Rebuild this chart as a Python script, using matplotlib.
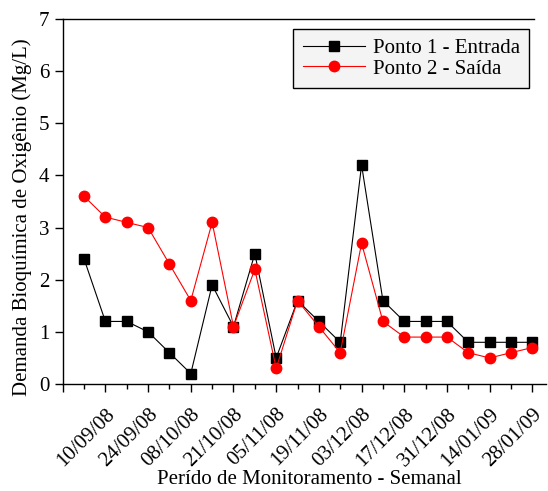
import matplotlib.pyplot as plt
from matplotlib.ticker import MultipleLocator

plt.rcParams['font.family'] = ['Liberation Serif', 'DejaVu Serif']

# weekly samples, DBO in mg/L
semana = list(range(1, 23))
ponto1 = [2.4, 1.2, 1.2, 1.0, 0.6, 0.2, 1.9, 1.1, 2.5, 0.5, 1.6,
          1.2, 0.8, 4.2, 1.6, 1.2, 1.2, 1.2, 0.8, 0.8, 0.8, 0.8]
ponto2 = [3.6, 3.2, 3.1, 3.0, 2.3, 1.6, 3.1, 1.1, 2.2, 0.3, 1.6,
          1.1, 0.6, 2.7, 1.2, 0.9, 0.9, 0.9, 0.6, 0.5, 0.6, 0.7]
datas = ['', '10/09/08', '24/09/08', '08/10/08', '21/10/08', '05/11/08',
         '19/11/08', '03/12/08', '17/12/08', '31/12/08', '14/01/09', '28/01/09']

fig = plt.figure(figsize=(5.48, 4.91), dpi=100)
ax = fig.add_axes([0.1144, 0.2179, 0.8820, 0.7434])

ax.plot(semana, ponto1, color='black', lw=0.8, marker='s', ms=6.5,
        label='Ponto 1 - Entrada')
ax.plot(semana, ponto2, color='red', lw=0.8, marker='o', ms=7.5,
        label='Ponto 2 - Saída')

ax.set_xlim(0, 22.64)
ax.set_ylim(0, 7)
ax.set_xticks(range(0, 23, 2))
ax.set_xticklabels(datas, rotation=45, ha='right', rotation_mode='anchor')
ax.xaxis.set_minor_locator(MultipleLocator(1))
ax.yaxis.set_major_locator(MultipleLocator(1))

ax.spines['right'].set_visible(False)
ax.spines['top'].set_bounds(0, 22.1)
for s in ax.spines.values():
    s.set_linewidth(1.0)

ax.tick_params(axis='both', which='major', direction='out', length=6,
               width=1.0, labelsize=15)
ax.tick_params(axis='x', which='minor', direction='out', length=3.5, width=1.0)
ax.tick_params(axis='x', which='major', pad=9)

ax.set_xlabel('Perído de Monitoramento - Semanal', fontsize=15)
ax.xaxis.set_label_coords(0.5096, -0.236)
ax.set_ylabel('Demanda Bioquímica de Oxigênio (Mg/L)', fontsize=15)
ax.yaxis.set_label_coords(-0.063, 0.4575)

leg = ax.legend(loc='upper right', bbox_to_anchor=(0.965, 0.9726), fontsize=15,
                fancybox=False, framealpha=1, handlelength=3.0,
                borderpad=0.45, labelspacing=0.05, handletextpad=0.35,
                borderaxespad=0)
leg.get_frame().set_facecolor('#f4f4f4')
leg.get_frame().set_edgecolor('black')
leg.get_frame().set_linewidth(1.0)

fig.savefig('out.png', dpi=100)
